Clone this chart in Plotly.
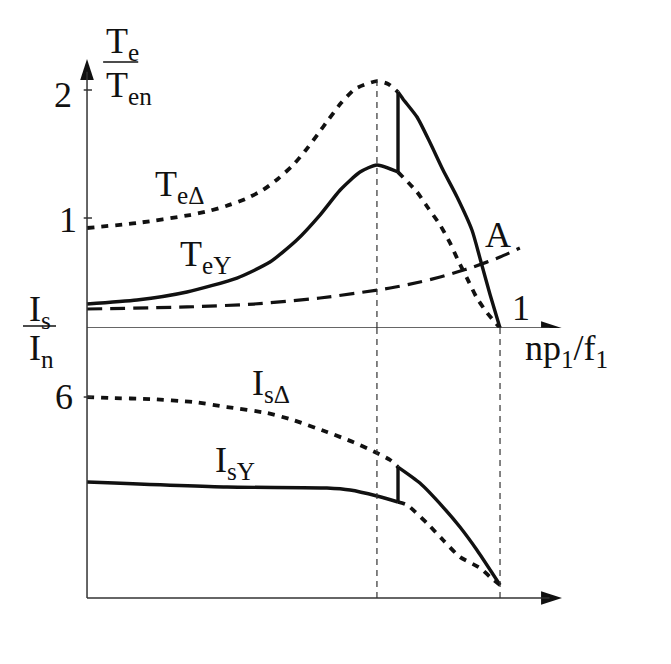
"""Star-delta starting: torque and stator current versus speed (sketch)."""

import plotly.graph_objects as go

# Per-unit speed n*p1/f1 and torque T_e/T_en.
TE_DELTA_X = [0.0, 0.121, 0.249, 0.295, 0.337, 0.383, 0.426, 0.462, 0.499,
              0.528, 0.559, 0.584, 0.615, 0.649, 0.702, 0.729, 0.753,
              0.765, 0.799, 0.831, 0.862, 0.896, 0.932, 0.952, 0.976, 1.0]
TE_DELTA = [0.922, 0.961, 1.023, 1.055, 1.094, 1.148, 1.219, 1.305, 1.414,
            1.523, 1.656, 1.766, 1.898, 2.008, 2.070, 2.047, 1.984,
            1.930, 1.789, 1.586, 1.375, 1.164, 0.906, 0.680, 0.400, 0.141]

TE_Y_X = [0.0, 0.121, 0.242, 0.363, 0.443, 0.508, 0.564, 0.613, 0.661, 0.702,
          0.753, 0.799, 0.826, 0.855, 0.879, 0.898, 0.920, 0.944, 0.969, 1.0]
TE_Y = [0.328, 0.359, 0.422, 0.531, 0.656, 0.828, 1.023, 1.219, 1.359, 1.414,
        1.359, 1.203, 1.078, 0.945, 0.805, 0.672, 0.531, 0.375, 0.258, 0.141]

LOAD_X = [0.0, 0.242, 0.404, 0.564, 0.734, 0.806, 0.855, 0.896, 0.935, 1.0, 1.048]
LOAD_T = [0.289, 0.305, 0.328, 0.375, 0.453, 0.500, 0.539, 0.578, 0.617, 0.695, 0.766]

# Stator current I_s/I_n.
IS_DELTA_X = [0.0, 0.056, 0.153, 0.257, 0.339, 0.436, 0.499, 0.581, 0.644,
              0.702, 0.734, 0.753, 0.806, 0.862, 0.903, 0.944, 1.0]
IS_DELTA = [6.0, 5.970, 5.940, 5.851, 5.701, 5.522, 5.313, 4.955, 4.657,
            4.328, 4.119, 3.910, 3.433, 2.716, 2.119, 1.433, 0.388]

IS_Y_X = [0.0, 0.339, 0.581, 0.637, 0.702, 0.753, 0.775, 0.823, 0.862,
          0.903, 0.952, 0.976, 1.0]
IS_Y = [3.463, 3.313, 3.284, 3.224, 3.045, 2.866, 2.776, 2.239, 1.731,
        1.224, 0.896, 0.627, 0.388]

SWITCH_X = 0.753      # star -> delta changeover
PEAK_X = 0.702        # breakdown-torque speed
TOP_BASE = 0.14       # where the speed axis crosses the torque axis
TORQUE_TICKS = [1, 2]
CURRENT_TICKS = [6]

X_RANGE = [-0.2107, 1.4140]
TOP_RANGE = [0.1406, 2.7031]
BOT_RANGE = [-1.970, 8.060]
SPLIT = 0.506

INK = "#111111"
FONT = "Liberation Serif, serif"


def _split(xs, ys, x0, before):
    """Returns the part of a curve before (or after) x0."""
    pts = [(x, y) for x, y in zip(xs, ys) if (x <= x0 if before else x >= x0)]
    return [p[0] for p in pts], [p[1] for p in pts]


def _curve(fig, xs, ys, yaxis, dash, width=3.4):
    fig.add_trace(go.Scatter(
        x=xs, y=ys, yaxis=yaxis, mode="lines",
        line=dict(color=INK, width=width, dash=dash, shape="spline", smoothing=0.6),
        hoverinfo="skip", showlegend=False,
    ))


def _label(fig, x, y, text, yref="y", size=36):
    fig.add_annotation(x=x, y=y, xref="x", yref=yref, text=text, showarrow=False,
                       xanchor="center", yanchor="middle",
                       font=dict(family=FONT, size=size, color=INK))


fig = go.Figure()

dotted = "7px,7px"

# Top: torque
x, y = _split(TE_DELTA_X, TE_DELTA, SWITCH_X, True)
_curve(fig, x, y, "y", dotted, 3.8)
x, y = _split(TE_DELTA_X, TE_DELTA, SWITCH_X, False)
_curve(fig, x, y, "y", "solid")
x, y = _split(TE_Y_X, TE_Y, SWITCH_X, True)
_curve(fig, x, y, "y", "solid")
x, y = _split(TE_Y_X, TE_Y, SWITCH_X, False)
_curve(fig, x, y, "y", dotted, 3.8)
_curve(fig, [SWITCH_X, SWITCH_X],
       [TE_Y[TE_Y_X.index(SWITCH_X)], TE_DELTA[TE_DELTA_X.index(SWITCH_X)]],
       "y", "solid")
_curve(fig, LOAD_X, LOAD_T, "y", "15px,8px", 3.2)

# Bottom: current
x, y = _split(IS_DELTA_X, IS_DELTA, SWITCH_X, True)
_curve(fig, x, y, "y2", dotted, 3.8)
x, y = _split(IS_DELTA_X, IS_DELTA, SWITCH_X, False)
_curve(fig, x, y, "y2", "solid")
x, y = _split(IS_Y_X, IS_Y, SWITCH_X, True)
_curve(fig, x, y, "y2", "solid")
x, y = _split(IS_Y_X, IS_Y, SWITCH_X, False)
_curve(fig, x, y, "y2", dotted, 3.8)
_curve(fig, [SWITCH_X, SWITCH_X],
       [IS_Y[IS_Y_X.index(SWITCH_X)], IS_DELTA[IS_DELTA_X.index(SWITCH_X)]],
       "y2", "solid")

# Axes with arrow heads
axis_line = dict(color="#333333", width=1.5)
top_tip = 2.242
x_tip = 1.150
fig.add_shape(type="line", x0=0, x1=0, y0=TOP_BASE, y1=top_tip - 0.1,
              xref="x", yref="y", line=axis_line)
fig.add_shape(type="line", x0=0, x1=x_tip - 0.03, y0=TOP_BASE, y1=TOP_BASE,
              xref="x", yref="y", line=axis_line)
fig.add_shape(type="line", x0=0, x1=0, y0=0, y1=BOT_RANGE[1],
              xref="x", yref="y2", line=axis_line)
fig.add_shape(type="line", x0=0, x1=x_tip - 0.03, y0=0, y1=0,
              xref="x", yref="y2", line=axis_line)
fig.add_trace(go.Scatter(x=[0, x_tip], y=[top_tip, TOP_BASE], mode="markers",
                         marker=dict(symbol="arrow", size=22, angle=[0, 90],
                                     color=INK, line=dict(width=0)),
                         hoverinfo="skip", showlegend=False))
fig.add_trace(go.Scatter(x=[x_tip], y=[0], yaxis="y2", mode="markers",
                         marker=dict(symbol="arrow", size=22, angle=90,
                                     color=INK, line=dict(width=0)),
                         hoverinfo="skip", showlegend=False))

# Ticks
for t in TORQUE_TICKS:
    fig.add_shape(type="line", x0=-0.008, x1=0.012, y0=t, y1=t,
                  xref="x", yref="y", line=axis_line)
for t in CURRENT_TICKS:
    fig.add_shape(type="line", x0=-0.008, x1=0.012, y0=t, y1=t,
                  xref="x", yref="y2", line=axis_line)

# Guide lines
guide = dict(color="#333333", width=1.2, dash="6px,5px")
fig.add_shape(type="line", x0=PEAK_X, x1=PEAK_X, y0=TOP_BASE, y1=max(TE_DELTA),
              xref="x", yref="y", line=guide)
fig.add_shape(type="line", x0=PEAK_X, x1=PEAK_X, y0=0, y1=BOT_RANGE[1],
              xref="x", yref="y2", line=guide)
fig.add_shape(type="line", x0=1, x1=1, y0=0, y1=BOT_RANGE[1],
              xref="x", yref="y2", line=guide)

# Labels
_label(fig, 0.0847, 2.367, "T<sub>e</sub>")
fig.add_shape(type="line", x0=0.039, x1=0.124, y0=2.219, y1=2.219,
              xref="x", yref="y", line=dict(color=INK, width=1.5))
_label(fig, 0.1017, 2.016, "T<sub>en</sub>")
_label(fig, -0.058, 1.961, "2")
_label(fig, -0.046, 0.984, "1")
_label(fig, -0.114, 0.266, "I<sub>s</sub>")
fig.add_shape(type="line", x0=-0.155, x1=-0.075, y0=0.156, y1=0.156,
              xref="x", yref="y", line=dict(color=INK, width=1.5))
_label(fig, -0.111, 7.403, "I<sub>n</sub>", yref="y2")
_label(fig, -0.056, 6.0, "6", yref="y2")
_label(fig, 1.051, 0.297, "1")
_label(fig, 1.162, 7.403, "np<sub>1</sub>/f<sub>1</sub>", yref="y2")
_label(fig, 0.995, 0.867, "A")
_label(fig, 0.225, 1.25, "T<sub>eΔ</sub>")
_label(fig, 0.288, 0.703, "T<sub>eY</sub>")
_label(fig, 0.4455, 6.358, "I<sub>sΔ</sub>", yref="y2")
_label(fig, 0.358, 4.06, "I<sub>sY</sub>", yref="y2")

hidden = dict(visible=False, showgrid=False, zeroline=False, fixedrange=True)
fig.update_layout(
    width=671, height=664,
    margin=dict(l=0, r=0, t=0, b=0, pad=0),
    paper_bgcolor="white", plot_bgcolor="white",
    xaxis=dict(range=X_RANGE, **hidden),
    yaxis=dict(range=TOP_RANGE, domain=[SPLIT, 1], **hidden),
    yaxis2=dict(range=BOT_RANGE, domain=[0, SPLIT], anchor="x", **hidden),
    showlegend=False,
)

# the page's default body margin would shift the figure by 8px
fig.write_html("out.html", config={"displayModeBar": False},
               post_script="document.body.style.margin='0';")
